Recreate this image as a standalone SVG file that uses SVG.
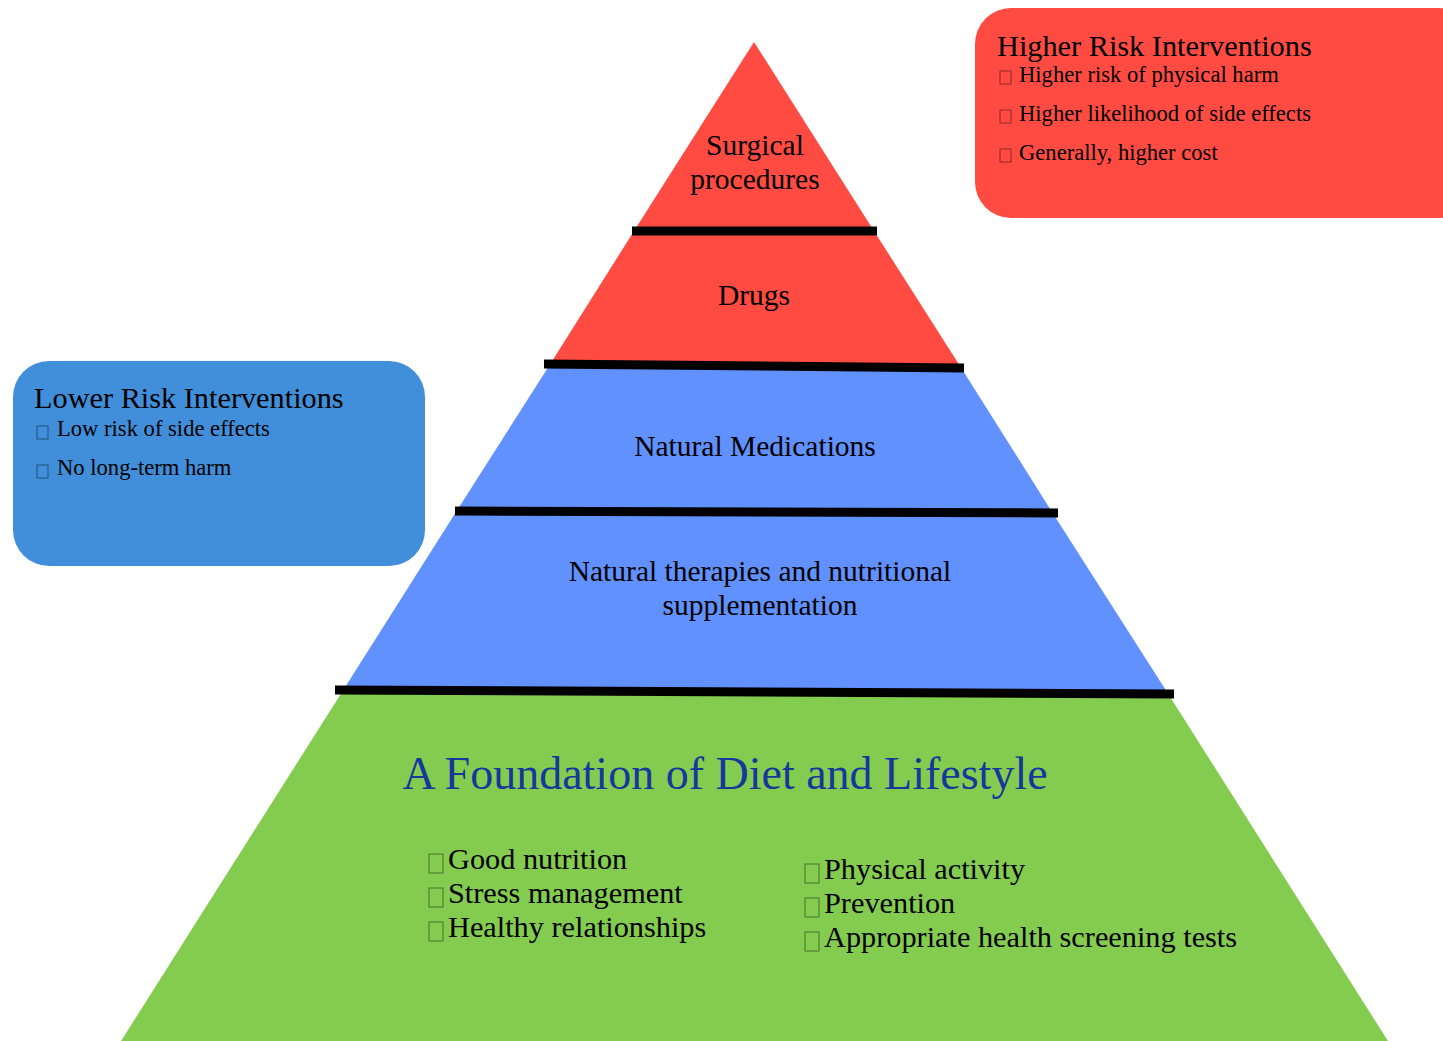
<svg xmlns="http://www.w3.org/2000/svg" width="1443" height="1041" viewBox="0 0 1443 1041">
<style>
text{font-family:"Liberation Serif","Times New Roman",serif;fill:#000}
.band{font-size:29.5px;text-anchor:middle}
.btitle{font-size:30.3px}
.bitem{font-size:22.6px}
.gitem{font-size:30.3px}
.tofu{fill:none;stroke:#000;stroke-opacity:0.45;stroke-width:1}
.sep{stroke:#000;stroke-width:9;stroke-linecap:butt;stroke-linejoin:round;fill:none}
.red{fill:#FF4B42}
.blue{fill:#6190FF}
.green{fill:#84CC4F}
</style>
<rect width="1443" height="1041" fill="#fff"/>
<g id="foundation">
<polygon class="green" points="342,692 1167,692 1388,1041 121,1041"/>
<text x="725" y="789" font-size="46" text-anchor="middle" style="fill:#16389C">A Foundation of Diet and Lifestyle</text>
<rect class="tofu" x="429" y="854" width="14" height="19"/>
<text class="gitem" x="448" y="869">Good nutrition</text>
<rect class="tofu" x="429" y="888" width="14" height="19"/>
<text class="gitem" x="448" y="903">Stress management</text>
<rect class="tofu" x="429" y="922" width="14" height="19"/>
<text class="gitem" x="448" y="937">Healthy relationships</text>
<rect class="tofu" x="805" y="864" width="14" height="19"/>
<text class="gitem" x="824" y="879">Physical activity</text>
<rect class="tofu" x="805" y="898" width="14" height="19"/>
<text class="gitem" x="824" y="913">Prevention</text>
<rect class="tofu" x="805" y="932" width="14" height="19"/>
<text class="gitem" x="824" y="947">Appropriate health screening tests</text>
</g>
<g id="natural-therapies">
<polygon class="blue" points="456,512 1052,512 1167,692 342,692"/>
<text class="band" x="760" y="581">Natural therapies and nutritional</text>
<text class="band" x="760" y="615">supplementation</text>
</g>
<g id="natural-medications">
<polygon class="blue" points="549,366 960,366 1052,512 456,512"/>
<text class="band" x="755" y="456">Natural Medications</text>
</g>
<g id="drugs">
<polygon class="red" points="634,231 874,231 960,366 549,366"/>
<text class="band" x="754" y="305">Drugs</text>
</g>
<g id="surgical">
<polygon class="red" points="754,42 874,231 634,231"/>
<text class="band" x="755" y="155">Surgical</text>
<text class="band" x="755" y="189">procedures</text>
</g>
<g id="separators">
<line class="sep" x1="632" y1="231" x2="877" y2="231"/>
<line class="sep" x1="544" y1="364" x2="964" y2="368"/>
<line class="sep" x1="455" y1="511" x2="1058" y2="513"/>
<line class="sep" x1="335" y1="690" x2="1174" y2="694"/>
</g>
<g id="higher-risk">
<rect x="975" y="8" width="500" height="210" rx="36" ry="36" fill="#FF4B42"/>
<text class="btitle" x="997" y="56">Higher Risk Interventions</text>
<rect class="tofu" x="1000" y="71" width="11" height="13"/>
<text class="bitem" x="1019" y="82">Higher risk of physical harm</text>
<rect class="tofu" x="1000" y="110" width="11" height="13"/>
<text class="bitem" x="1019" y="121">Higher likelihood of side effects</text>
<rect class="tofu" x="1000" y="149" width="11" height="13"/>
<text class="bitem" x="1019" y="160">Generally, higher cost</text>
</g>
<g id="lower-risk">
<rect x="13" y="361" width="412" height="205" rx="36" ry="36" fill="#418FDA"/>
<text class="btitle" x="34" y="408">Lower Risk Interventions</text>
<rect class="tofu" x="37" y="426" width="11" height="13"/>
<text class="bitem" x="57" y="436">Low risk of side effects</text>
<rect class="tofu" x="37" y="465" width="11" height="13"/>
<text class="bitem" x="57" y="475">No long-term harm</text>
</g>
</svg>
